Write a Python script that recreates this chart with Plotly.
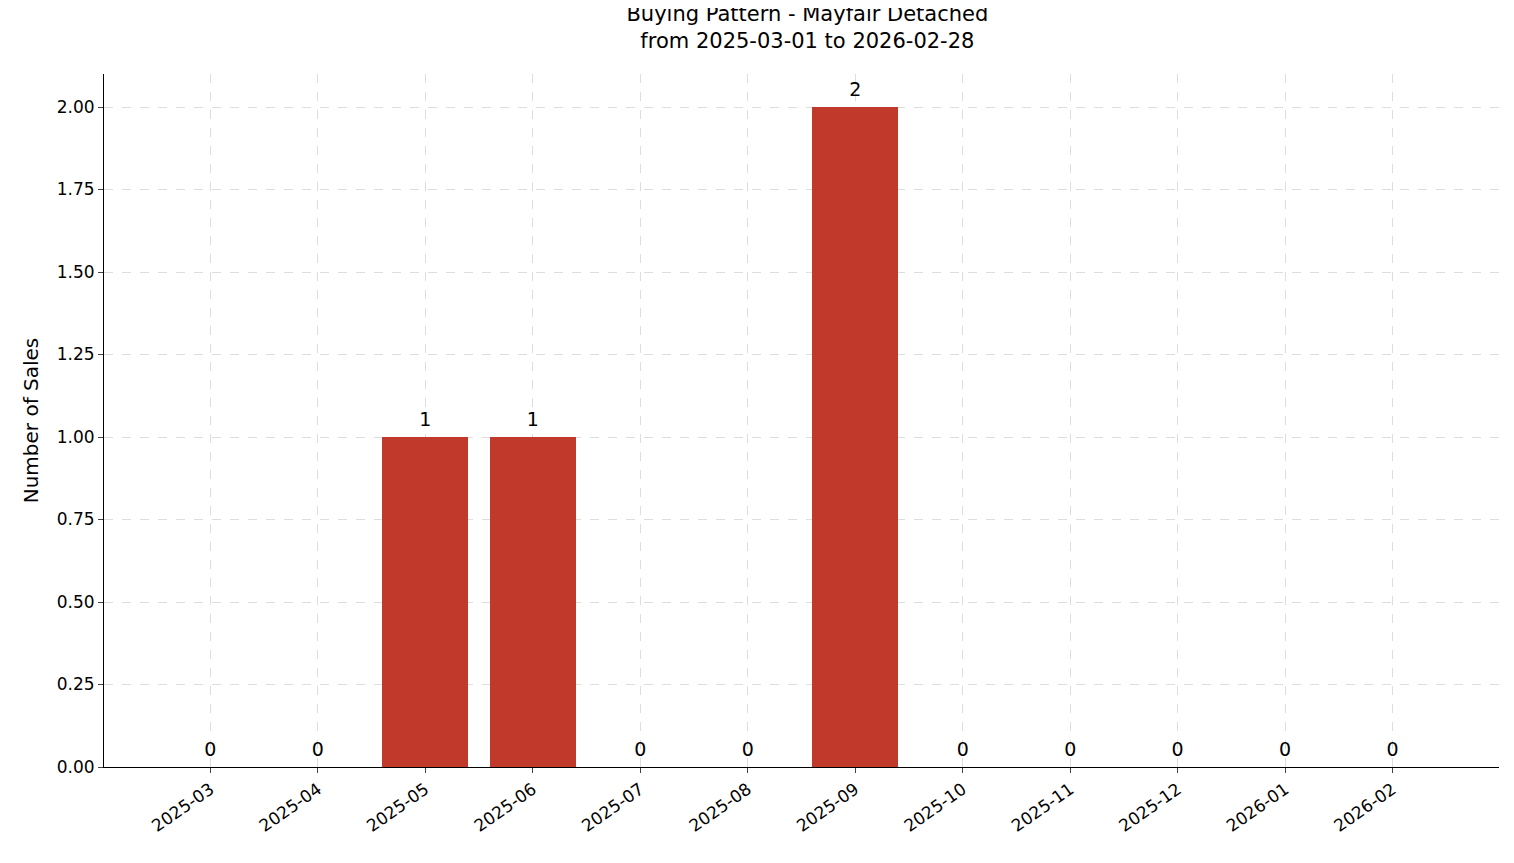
import plotly.graph_objects as go

months = ["2025-03", "2025-04", "2025-05", "2025-06", "2025-07", "2025-08",
          "2025-09", "2025-10", "2025-11", "2025-12", "2026-01", "2026-02"]
sales = [0, 0, 1, 1, 0, 0, 2, 0, 0, 0, 0, 0]

xs = list(range(len(months)))
font = "DejaVu Sans"

fig = go.Figure()
fig.add_trace(go.Bar(x=xs, y=sales, width=0.8, marker_color="#c0392b",
                     marker_line_width=0, showlegend=False))
# value labels above each bar
fig.add_trace(go.Scatter(x=xs, y=[v + 0.02 for v in sales], mode="text",
                         text=[str(v) for v in sales],
                         textposition="top center", textfont=dict(size=19, color="black"),
                         showlegend=False, cliponaxis=False))

fig.update_layout(
    width=1514, height=863,
    margin=dict(l=96, r=23, t=66, b=104),
    plot_bgcolor="white", paper_bgcolor="white",
    font=dict(family=font, size=17, color="black"),
    title=dict(text="Buying Pattern - Mayfair Detached<br>from 2025-03-01 to 2026-02-28",
               x=0.528, xanchor="center", y=0.985, yanchor="top",
               font=dict(size=21)),
    bargap=0,
)
fig.update_xaxes(range=[-0.99, 11.99], tickvals=xs, ticktext=months, tickangle=-35,
                 showgrid=True, gridcolor="#dddddd", griddash="dash", gridwidth=0.8,
                 showline=True, linecolor="black", ticks="outside", ticklen=5,
                 zeroline=False)
fig.update_yaxes(range=[0, 2.1], tickvals=[0, 0.25, 0.5, 0.75, 1, 1.25, 1.5, 1.75, 2],
                 tickformat=".2f", title=dict(text="Number of Sales", standoff=12),
                 showgrid=True, gridcolor="#dddddd", griddash="dash", gridwidth=0.8,
                 showline=True, linecolor="black", ticks="outside", ticklen=5,
                 zeroline=False)

fig.write_html("out.html")
